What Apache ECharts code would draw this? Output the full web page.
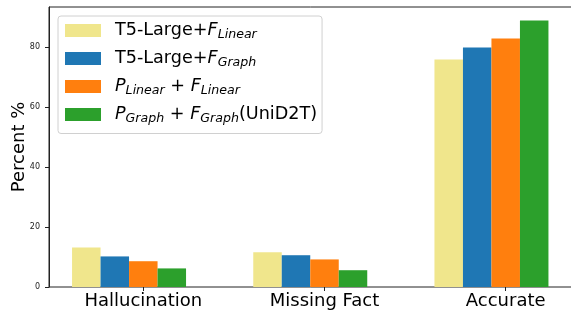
<!DOCTYPE html>
<html>
<head>
<meta charset="utf-8">
<script src="https://cdn.jsdelivr.net/npm/echarts@6/dist/echarts.min.js"></script>
<style>
  html, body { margin: 0; padding: 0; background: #fff; }
  #main { width: 571px; height: 311px; }
</style>
</head>
<body>
<div id="main"></div>
<script>
// 数据
var categories = ['Hallucination', 'Missing Fact', 'Accurate'];
var seriesNames = ['T5-Large+F_Linear', 'T5-Large+F_Graph', 'P_Linear + F_Linear', 'P_Graph + F_Graph(UniD2T)'];
var t5Linear = [13.2, 11.6, 75.9];
var t5Graph = [10.2, 10.6, 79.9];
var pLinear = [8.6, 9.2, 82.9];
var pGraph = [6.2, 5.6, 88.9];
var yTicks = [0, 20, 40, 60, 80];
var colors = ['#f0e68c', '#1f77b4', '#ff7f0e', '#2ca02c'];

// 图例文字 (斜体 + 下标)
var legendLabels = {};
legendLabels[seriesNames[0]] = '{sp|}{n|T5-Large+}{i|F}{s|Linear}';
legendLabels[seriesNames[1]] = '{sp|}{n|T5-Large+}{i|F}{s|Graph}';
legendLabels[seriesNames[2]] = '{sp|}{i|P}{s|Linear}{n| + }{i|F}{s|Linear}';
legendLabels[seriesNames[3]] = '{sp|}{i|P}{s|Graph}{n| + }{i|F}{s|Graph}{n|(UniD2T)}';

var font = 'DejaVu Sans';
var values = [t5Linear, t5Graph, pLinear, pGraph];
var yMax = 93.4;

var series = values.map(function (arr, k) {
    return {
        name: seriesNames[k],
        type: 'bar',
        xAxisIndex: 1,
        yAxisIndex: 1,
        data: arr,
        barWidth: 28.5,
        barGap: '0%',
        itemStyle: { color: colors[k] },
        emphasis: { disabled: true }
    };
});
// empty slot so the tick sits under the third bar (like matplotlib offsets)
series.push({
    name: 'pad',
    type: 'bar',
    xAxisIndex: 1,
    yAxisIndex: 1,
    data: [0, 0, 0],
    barWidth: 28.5,
    barGap: '0%',
    itemStyle: { color: 'rgba(0,0,0,0)' },
    silent: true
});

var myChart = echarts.init(document.getElementById('main'));

var option = {
    animation: false,
    grid: [
        // 外框 + y轴
        { left: 49, width: 525, top: 7, bottom: 24, outerBoundsMode: 'none', show: true, borderColor: '#222', borderWidth: 1 },
        // 柱子 (类目轴, 向右延伸出画面)
        { left: 52.7, width: 543.6, top: 7, bottom: 24, outerBoundsMode: 'none' }
    ],
    legend: {
        data: seriesNames,
        orient: 'vertical',
        left: 58,
        top: 16,
        itemWidth: 36,
        itemHeight: 13,
        itemGap: 8,
        padding: [5.5, 5, 8, 7],
        borderColor: '#d0d0d0',
        borderWidth: 1,
        borderRadius: 3,
        backgroundColor: 'rgba(255,255,255,0.8)',
        icon: 'rect',
        selectedMode: false,
        formatter: function (name) { return legendLabels[name]; },
        textStyle: {
            fontFamily: font,
            fontSize: 17.6,
            color: '#000',
            rich: {
                sp: { width: 9, fontSize: 17.6, lineHeight: 22 },
                n: { fontFamily: font, fontSize: 17.6, lineHeight: 22, color: '#000' },
                i: { fontFamily: font, fontSize: 17.6, lineHeight: 22, fontStyle: 'italic', color: '#000' },
                s: { fontFamily: font, fontSize: 12.6, lineHeight: 10, fontStyle: 'italic', verticalAlign: 'bottom', color: '#000' }
            }
        }
    },
    xAxis: [
        {
            gridIndex: 0,
            type: 'value',
            min: 0,
            max: 1,
            axisLine: { show: false },
            axisTick: { show: false },
            axisLabel: { show: false },
            splitLine: { show: false }
        },
        {
            gridIndex: 1,
            type: 'category',
            data: categories,
            axisLine: { show: false },
            axisTick: { show: true, alignWithLabel: true, length: 4, lineStyle: { color: '#222' } },
            axisLabel: {
                fontFamily: font,
                fontSize: 18,
                color: '#000',
                margin: 5
            }
        }
    ],
    yAxis: [
        {
            gridIndex: 0,
            type: 'value',
            min: 0,
            max: yMax,
            name: 'Percent %',
            nameLocation: 'middle',
            nameGap: 21,
            nameMoveOverlap: false,
            nameTextStyle: { fontFamily: font, fontSize: 18, color: '#000' },
            splitLine: { show: false },
            axisLine: { show: true, onZero: false, lineStyle: { color: '#222', width: 1 } },
            axisTick: { show: true, customValues: yTicks, length: 4, lineStyle: { color: '#222' } },
            axisLabel: {
                customValues: yTicks,
                fontFamily: font,
                fontSize: 8,
                color: '#222',
                margin: 9
            }
        },
        {
            gridIndex: 1,
            type: 'value',
            min: 0,
            max: yMax,
            show: false,
            splitLine: { show: false }
        }
    ],
    series: series
};

myChart.setOption(option);
</script>
</body>
</html>
